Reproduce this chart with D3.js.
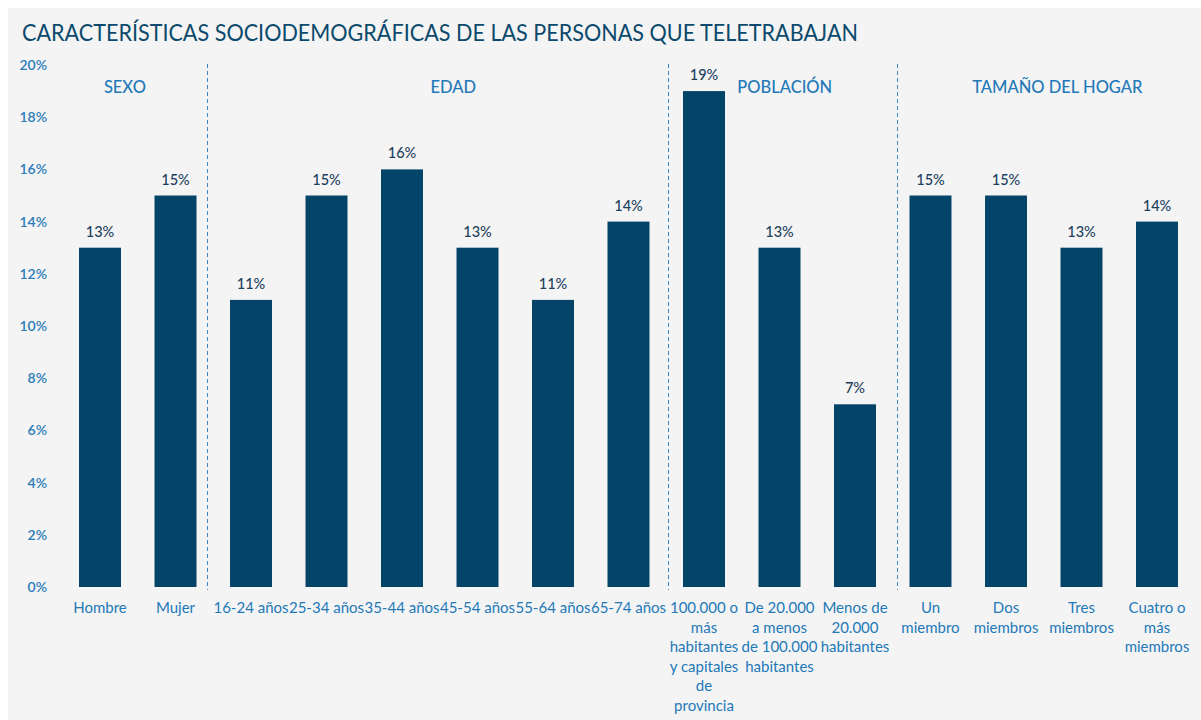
<!DOCTYPE html>
<html lang="es">
<head>
<meta charset="utf-8">
<script src="https://d3js.org/d3.v7.min.js"></script>
<title>Teletrabajo</title>
<style>
  body { margin: 0; background: #ffffff; }
  svg text { font-family: Lato, "Open Sans", sans-serif; }
</style>
</head>
<body>
<div id="container"></div>
<script>
// data
var categories = ["Hombre", "Mujer", "16-24 años", "25-34 años", "35-44 años", "45-54 años",
    "55-64 años", "65-74 años", "100.000 o más", "De 20.000 a menos", "Menos de 20.000",
    "Un miembro", "Dos miembros", "Tres miembros", "Cuatro o más"];
var tickLines = [
    ["Hombre"], ["Mujer"], ["16-24 años"], ["25-34 años"], ["35-44 años"], ["45-54 años"],
    ["55-64 años"], ["65-74 años"],
    ["100.000 o", "más", "habitantes", "y capitales", "de", "provincia"],
    ["De 20.000", "a menos", "de 100.000", "habitantes"],
    ["Menos de", "20.000", "habitantes"],
    ["Un", "miembro"], ["Dos", "miembros"], ["Tres", "miembros"], ["Cuatro o", "más", "miembros"]
];
var values = [13, 15, 11, 15, 16, 13, 11, 14, 19, 13, 7, 15, 15, 13, 14];
var yTicks = [0, 2, 4, 6, 8, 10, 12, 14, 16, 18, 20];
var groupNames = ["SEXO", "EDAD", "POBLACIÓN", "TAMAÑO DEL HOGAR"];
var groupPos = [0.33, 4.68, 9.07, 12.68];   // in category index units
var dividerPos = [1.42, 7.52, 10.56];

var W = 1201, H = 720;
var svg = d3.select("#container").append("svg")
    .attr("width", W).attr("height", H);

svg.append("rect").attr("x", 8).attr("y", 8)
    .attr("width", W - 8).attr("height", H - 8).attr("fill", "#f4f4f4");

svg.append("text")
    .attr("x", 22).attr("y", 41)
    .attr("textLength", 836).attr("lengthAdjust", "spacingAndGlyphs")
    .style("font-size", "24px").style("fill", "#0b4a6c")
    .text("CARACTERÍSTICAS SOCIODEMOGRÁFICAS DE LAS PERSONAS QUE TELETRABAJAN");

var x = d3.scaleBand()
    .domain(categories)
    .range([62.25, 1194.75])
    .paddingInner(0.444)
    .paddingOuter(0.222);

var idx = d3.scaleLinear()
    .domain([0, 1])
    .range([x(categories[0]) + x.bandwidth() / 2, x(categories[1]) + x.bandwidth() / 2]);

var y = d3.scaleLinear().domain([0, 20]).range([587, 65]);

// y axis
var yAxis = svg.append("g")
    .attr("transform", "translate(47,0)")
    .call(d3.axisLeft(y).tickValues(yTicks).tickSize(0).tickPadding(0)
        .tickFormat(function(d) { return d + "%"; }));
yAxis.select(".domain").remove();
yAxis.selectAll("text")
    .style("font-family", "Lato, sans-serif")
    .style("font-size", "14px").style("font-weight", "600")
    .style("fill", "#2b7bb9");

// dividers (snapped to pixel centre so they stay crisp)
svg.selectAll(".divider")
    .data(dividerPos)
    .enter().append("line")
    .attr("x1", function(d) { return Math.round(idx(d)) + 0.5; })
    .attr("x2", function(d) { return Math.round(idx(d)) + 0.5; })
    .attr("y1", 64).attr("y2", 590)
    .attr("stroke", "#3d88c6").attr("stroke-width", 1)
    .attr("stroke-dasharray", "4,3");

// group headers
svg.selectAll(".group")
    .data(groupNames)
    .enter().append("text")
    .attr("x", function(d, i) { return idx(groupPos[i]); })
    .attr("y", 93)
    .attr("text-anchor", "middle")
    .style("font-size", "16.5px").style("font-weight", "500")
    .style("fill", "#2379b8")
    .text(function(d) { return d; });

// bars
svg.selectAll(".bar")
    .data(values)
    .enter().append("rect")
    .attr("x", function(d, i) { return x(categories[i]); })
    .attr("width", x.bandwidth())
    .attr("y", function(d) { return y(d); })
    .attr("height", function(d) { return y(0) - y(d); })
    .attr("fill", "#034468");

// value labels
svg.selectAll(".val")
    .data(values)
    .enter().append("text")
    .attr("x", function(d, i) { return x(categories[i]) + x.bandwidth() / 2; })
    .attr("y", function(d) { return y(d) - 11; })
    .attr("text-anchor", "middle")
    .style("font-size", "14.5px").style("font-weight", "500")
    .style("fill", "#1d3f5e")
    .text(function(d) { return d + "%"; });

// category labels
var xl = svg.selectAll(".cat")
    .data(tickLines)
    .enter().append("text")
    .attr("text-anchor", "middle")
    .style("font-size", "15px")
    .style("fill", "#2379b8");
xl.each(function(lines, i) {
    var cx = x(categories[i]) + x.bandwidth() / 2;
    d3.select(this).selectAll("tspan")
        .data(lines)
        .enter().append("tspan")
        .attr("x", cx)
        .attr("y", function(d, j) { return 613 + j * 19.5; })
        .text(function(d) { return d; });
});
</script>
</body>
</html>
